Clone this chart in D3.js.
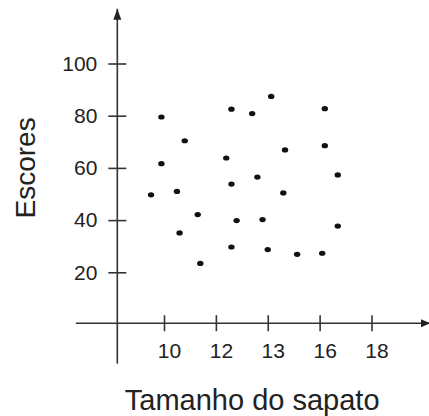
<!DOCTYPE html>
<html>
<head>
<meta charset="utf-8">
<script src="https://cdn.jsdelivr.net/npm/d3@7"></script>
<style>
  body { margin: 0; background: #fff; }
  text { font-family: "Liberation Sans", Arial, sans-serif; fill: #222; }
</style>
</head>
<body>
<script>
// data
var sizeTicks = [10, 12, 13, 16, 18];
var scoreTicks = [20, 40, 60, 80, 100];
var shoeSizes = [9.9, 10.8, 9.9, 12.3, 12.2, 13.2, 12.7, 16.2, 14.0, 16.2, 12.8, 16.7, 9.5,
                 10.5, 12.3, 11.3, 12.4, 10.6, 12.3, 11.4, 13.9, 12.9, 16.7, 13.0, 14.7, 16.1];
var scores = [79.5, 70.4, 61.6, 82.5, 63.8, 87.4, 80.8, 82.7, 66.9, 68.5, 56.5, 57.3, 49.7,
              51.0, 53.8, 42.1, 39.8, 35.1, 29.7, 23.4, 50.4, 40.2, 37.7, 28.7, 26.9, 27.3];

var w = 429, h = 416;
var svg = d3.select("body").append("svg").attr("width", w).attr("height", h);

// x ticks are evenly spaced even though the sizes are not
var xIndex = d3.scaleLinear().domain([0, 4]).range([164, 371.5]);
var x = d3.scaleLinear().domain(sizeTicks).range(sizeTicks.map((d, i) => xIndex(i)));
var y = d3.scaleLinear().domain([20, 100]).range([272.3, 63.5]);

var axisX = x(8.2);   // where the vertical axis sits
var axisY = y(0.5);   // where the horizontal axis sits
var stroke = "#333";

// axis lines
svg.append("line")
    .attr("x1", xIndex(-1.7)).attr("x2", w)
    .attr("y1", axisY).attr("y2", axisY)
    .attr("stroke", stroke).attr("stroke-width", 1.6);
svg.append("line")
    .attr("x1", axisX).attr("x2", axisX)
    .attr("y1", y(121)).attr("y2", y(-15))
    .attr("stroke", stroke).attr("stroke-width", 1.6);

// arrowheads
svg.append("path")
    .attr("d", "M" + axisX + "," + y(121) + "l-4,11h8z")
    .attr("fill", "#222");
svg.append("path")
    .attr("d", "M" + (w + 1) + "," + axisY + "l-9,-4v8z")
    .attr("fill", "#222");

// y ticks crossing the axis
var yAxis = d3.axisLeft(y).tickValues(scoreTicks).tickSize(18).tickPadding(11);
var yG = svg.append("g")
    .attr("transform", "translate(" + (axisX + 9) + ",0)")
    .call(yAxis);
yG.select(".domain").remove();
yG.selectAll("line").attr("stroke", stroke).attr("stroke-width", 1.6);
yG.selectAll("text").style("font-size", "21px").attr("fill", "#222");

// x ticks crossing the axis
var xAxis = d3.axisBottom(xIndex).tickValues([0, 1, 2, 3, 4])
    .tickFormat(i => sizeTicks[i]).tickSize(16).tickPadding(12);
var xG = svg.append("g")
    .attr("transform", "translate(0," + (axisY - 8) + ")")
    .call(xAxis);
xG.select(".domain").remove();
xG.selectAll("line").attr("stroke", stroke).attr("stroke-width", 1.6);
xG.selectAll("text").style("font-size", "21px").attr("fill", "#222").attr("dx", 5);

// points
svg.selectAll(".dot")
    .data(shoeSizes)
    .enter().append("ellipse")
    .attr("class", "dot")
    .attr("cx", d => x(d))
    .attr("cy", (d, i) => y(scores[i]))
    .attr("rx", 3.2).attr("ry", 2.6)
    .attr("fill", "#111");

// titles
svg.append("text")
    .attr("x", xIndex(1.7)).attr("y", 410)
    .attr("text-anchor", "middle")
    .style("font-size", "29px")
    .text("Tamanho do sapato");
svg.append("text")
    .attr("transform", "translate(35," + y(60) + ") rotate(-90)")
    .attr("text-anchor", "middle")
    .style("font-size", "28px")
    .text("Escores");
</script>
</body>
</html>
